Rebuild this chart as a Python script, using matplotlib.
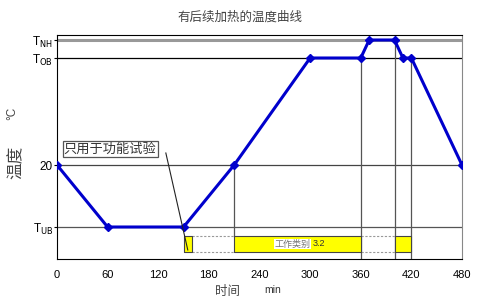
import matplotlib.pyplot as plt

plt.rcParams['font.family'] = ['Liberation Sans', 'Noto Sans CJK SC', 'DejaVu Sans']

# levels on an arbitrary temperature scale
T_UB = -42
T_20 = 20
T_OB = 127
T_NH = 145

# profile points (min, level)
times = [0, 60, 150, 210, 300, 360, 370, 400, 410, 420, 480]
temps = [T_20, T_UB, T_UB, T_20, T_OB, T_OB, T_NH, T_NH, T_OB, T_OB, T_20]

x_ticks = [0, 60, 120, 180, 240, 300, 360, 420, 480]
y_ticks = [T_UB, T_20, T_OB, T_NH]
y_labels = [r'T$_{\rm UB}$', '20', r'T$_{\rm OB}$', r'T$_{\rm NH}$']

# yellow bars (start, end) in min
bars = [(150, 160), (210, 360), (400, 420)]
gaps = [(160, 210), (360, 400)]
bar_lo, bar_hi = -67, -51
vlines = [(210, T_20, bar_hi), (360, T_OB, None), (400, T_NH, None), (420, T_OB, None)]

fig = plt.figure(figsize=(4.8, 3.08), dpi=100)
ax = fig.add_axes([57 / 480, 1 - 259 / 308, 405 / 480, 224 / 308])
ax.set_xlim(0, 480)
ax.set_ylim(-74, 150)

# reference lines
ax.axhline(T_NH, color='#999999', lw=2.2, zorder=1)
ax.axhline(T_OB, color='black', lw=0.9, zorder=1)
ax.axhline(T_20, color='#444444', lw=0.9, zorder=1)
ax.axhline(T_UB, color='#555555', lw=0.9, zorder=1)

for x, top, bot in vlines:
    ax.plot([x, x], [top, -74 if bot is None else bot], color='#555555', lw=0.9, zorder=1)

for a, b in bars:
    ax.fill_between([a, b], bar_lo, bar_hi, facecolor='#ffff00', edgecolor='#444444', lw=0.8, zorder=2)
for a, b in gaps:
    for yy in (bar_lo, bar_hi):
        ax.plot([a, b], [yy, yy], color='#999999', lw=0.8, ls=(0, (2, 1.5)), zorder=1)

ax.text(279, (bar_lo + bar_hi) / 2, '工作类别', fontsize=6.5, color='#777777', ha='center', va='center',
        family=['Noto Sans CJK SC'], bbox=dict(facecolor='white', edgecolor='none', pad=0.6), zorder=3)
ax.text(303, (bar_lo + bar_hi) / 2 + 1, '3.2', fontsize=6.5, color='#333333', ha='left', va='center', zorder=3)

ax.plot(times, temps, color='#0000cc', lw=2.2, marker='D', ms=4.5, zorder=4)

# note with pointer line
ax.plot([129, 155], [32, -65], color='#222222', lw=0.8, zorder=5)
ax.text(8, 36, '只用于功能试验', fontsize=9.5, color='#333333', ha='left', va='center',
        family=['Noto Sans CJK SC'],
        bbox=dict(facecolor='white', edgecolor='#555555', lw=0.9, pad=0.8), zorder=5)

ax.set_xticks(x_ticks)
ax.set_yticks(y_ticks)
ax.set_yticklabels(y_labels)
ax.tick_params(axis='x', length=0, labelsize=8, pad=8)
ax.tick_params(axis='y', length=2, labelsize=8.5, pad=1)
for side in ('left', 'top', 'bottom'):
    ax.spines[side].set_color('black')
ax.spines['right'].set_color('#888888')

fig.text(240 / 480, 1 - 17 / 308, '有后续加热的温度曲线', fontsize=9, color='#444444',
         ha='center', va='center', family=['Noto Sans CJK SC'])
fig.text(16 / 480, 1 - 162 / 308, '温度', fontsize=12, color='#444444', rotation=90,
         ha='center', va='center', family=['Noto Sans CJK SC'])
fig.text(12 / 480, 1 - 113 / 308, '°C', fontsize=8.5, color='#444444', rotation=90,
         ha='center', va='center')
fig.text(228 / 480, 1 - 292 / 308, '时间', fontsize=9, color='#444444',
         ha='center', va='center', family=['Noto Sans CJK SC'])
fig.text(273 / 480, 1 - 290 / 308, 'min', fontsize=7.5, color='#333333', ha='center', va='center')

fig.savefig('out.png', dpi=100)
